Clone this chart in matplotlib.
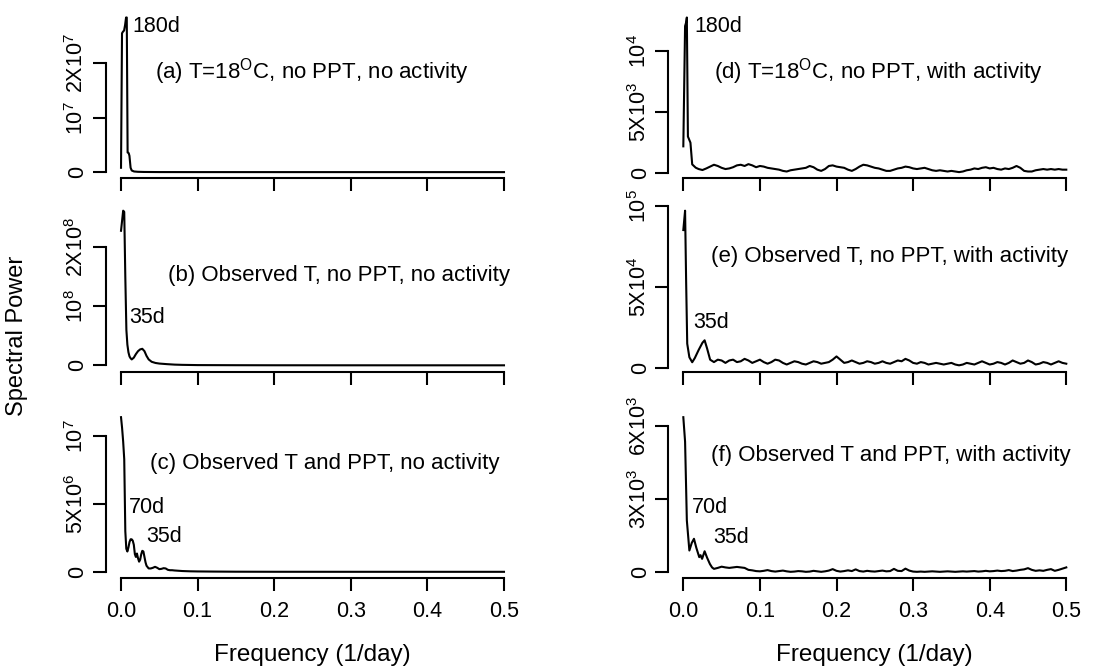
import numpy as np
import matplotlib
matplotlib.use("Agg")
import matplotlib.pyplot as plt

plt.rcParams['font.family'] = ['Liberation Sans', 'DejaVu Sans']
plt.rcParams['mathtext.fontset'] = 'custom'
plt.rcParams['mathtext.rm'] = 'Liberation Sans'
plt.rcParams['mathtext.it'] = 'Liberation Sans:italic'

# ---------------- data ----------------
x_ticks = [0.0, 0.1, 0.2, 0.3, 0.4, 0.5]
x_tick_labels = ['0.0', '0.1', '0.2', '0.3', '0.4', '0.5']

# (a) units of 1e7
freq_a = [0.0, 0.0013, 0.0026, 0.0040, 0.0053, 0.0066, 0.0075, 0.0086, 0.0100, 0.0110,
          0.0125, 0.0140, 0.0170, 0.0220, 0.030, 0.050, 0.10, 0.20, 0.30, 0.40, 0.50]
pow_a = [0.08, 2.55, 2.58, 2.60, 2.70, 2.84, 2.84, 0.36, 0.35, 0.30,
         0.08, 0.03, 0.012, 0.006, 0.003, 0.001, 0.0005, 0.0003, 0.0002, 0.0002, 0.0002]

# (b) units of 1e8
freq_b = [0.0, 0.0014, 0.0028, 0.0042, 0.0056, 0.0070, 0.0083, 0.0097, 0.0111, 0.0125,
          0.0140, 0.0167, 0.0194, 0.0222, 0.0250, 0.0278, 0.0306, 0.0333, 0.0361, 0.040,
          0.045, 0.050, 0.060, 0.070, 0.080, 0.10, 0.15, 0.20, 0.30, 0.40, 0.50]
pow_b = [2.28, 2.45, 2.62, 2.60, 1.50, 0.60, 0.35, 0.22, 0.15, 0.12,
         0.10, 0.13, 0.19, 0.24, 0.27, 0.28, 0.24, 0.16, 0.10, 0.06,
         0.04, 0.03, 0.02, 0.012, 0.008, 0.004, 0.002, 0.001, 0.0005, 0.0003, 0.0002]

# (c) units of 1e6
freq_c = [0.0, 0.0014, 0.0028, 0.0042, 0.0056, 0.0069, 0.0083, 0.0097, 0.0111, 0.0125,
          0.0139, 0.0153, 0.0167, 0.0181, 0.0194, 0.0208, 0.0222, 0.0236, 0.0250, 0.0264,
          0.0278, 0.0292, 0.0306, 0.0320, 0.0333, 0.0361, 0.0389, 0.0417, 0.0444, 0.0472,
          0.0500, 0.0528, 0.0556, 0.0583, 0.0611, 0.0639, 0.0667, 0.070, 0.075, 0.080,
          0.090, 0.10, 0.12, 0.15, 0.20, 0.30, 0.40, 0.50]
pow_c = [11.4, 10.6, 9.6, 8.3, 3.0, 1.7, 1.5, 1.8, 2.2, 2.4,
         2.4, 2.3, 2.0, 1.3, 1.1, 1.35, 1.0, 0.75, 0.9, 1.3,
         1.55, 1.5, 1.1, 0.7, 0.45, 0.25, 0.25, 0.3, 0.37, 0.3,
         0.2, 0.22, 0.27, 0.25, 0.15, 0.12, 0.12, 0.10, 0.08, 0.06,
         0.04, 0.03, 0.02, 0.01, 0.005, 0.003, 0.002, 0.002]

# shared tail frequency grid for the noisy right-hand panels
tail_freq = [0.040, 0.045, 0.050, 0.055, 0.060, 0.065, 0.070, 0.075, 0.080, 0.085,
             0.090, 0.095, 0.100, 0.105, 0.110, 0.115, 0.120, 0.125, 0.130, 0.135,
             0.140, 0.145, 0.150, 0.155, 0.160, 0.165, 0.170, 0.175, 0.180, 0.185,
             0.190, 0.195, 0.200, 0.205, 0.210, 0.215, 0.220, 0.225, 0.230, 0.235,
             0.240, 0.245, 0.250, 0.255, 0.260, 0.265, 0.270, 0.275, 0.280, 0.285,
             0.290, 0.295, 0.300, 0.305, 0.310, 0.315, 0.320, 0.325, 0.330, 0.335,
             0.340, 0.345, 0.350, 0.355, 0.360, 0.365, 0.370, 0.375, 0.380, 0.385,
             0.390, 0.395, 0.400, 0.405, 0.410, 0.415, 0.420, 0.425, 0.430, 0.435,
             0.440, 0.445, 0.450, 0.455, 0.460, 0.465, 0.470, 0.475, 0.480, 0.485,
             0.490, 0.495, 0.500]

# (d) units of 1e3
freq_d_head = [0.0, 0.0023, 0.0037, 0.0046, 0.0060, 0.0093, 0.0116, 0.0162, 0.020, 0.025, 0.030, 0.035]
pow_d_head = [2.2, 12.0, 12.3, 12.7, 3.0, 2.5, 0.73, 0.46, 0.35, 0.27, 0.40, 0.55]
pow_d_tail = [0.70, 0.60, 0.45, 0.35, 0.40, 0.50, 0.65, 0.70, 0.60, 0.75,
              0.65, 0.50, 0.60, 0.55, 0.45, 0.40, 0.35, 0.30, 0.20, 0.15,
              0.25, 0.30, 0.35, 0.40, 0.45, 0.60, 0.50, 0.30, 0.20, 0.35,
              0.60, 0.65, 0.55, 0.50, 0.45, 0.30, 0.20, 0.35, 0.55, 0.70,
              0.65, 0.55, 0.45, 0.40, 0.30, 0.20, 0.20, 0.30, 0.40, 0.45,
              0.55, 0.50, 0.40, 0.35, 0.40, 0.45, 0.35, 0.25, 0.20, 0.25,
              0.20, 0.15, 0.20, 0.15, 0.10, 0.15, 0.25, 0.30, 0.40, 0.35,
              0.45, 0.50, 0.40, 0.45, 0.35, 0.30, 0.40, 0.35, 0.45, 0.60,
              0.45, 0.20, 0.15, 0.15, 0.25, 0.30, 0.35, 0.30, 0.35, 0.30,
              0.35, 0.30, 0.30]

# (e) units of 1e4
freq_e_head = [0.0, 0.0023, 0.0037, 0.0051, 0.0079, 0.0116, 0.015, 0.020, 0.025, 0.0278, 0.031, 0.035]
pow_e_head = [8.53, 9.73, 5.27, 1.49, 0.65, 0.34, 0.60, 1.10, 1.55, 1.70, 1.20, 0.50]
pow_e_tail = [0.35, 0.50, 0.45, 0.30, 0.45, 0.50, 0.35, 0.40, 0.55, 0.45,
              0.30, 0.40, 0.50, 0.35, 0.25, 0.35, 0.50, 0.45, 0.30, 0.20,
              0.30, 0.40, 0.35, 0.25, 0.20, 0.30, 0.40, 0.35, 0.25, 0.30,
              0.35, 0.50, 0.70, 0.50, 0.30, 0.35, 0.45, 0.35, 0.25, 0.30,
              0.40, 0.35, 0.25, 0.30, 0.40, 0.30, 0.25, 0.35, 0.45, 0.40,
              0.55, 0.45, 0.30, 0.25, 0.35, 0.30, 0.20, 0.25, 0.30, 0.25,
              0.20, 0.25, 0.30, 0.20, 0.15, 0.20, 0.30, 0.25, 0.20, 0.30,
              0.40, 0.30, 0.20, 0.25, 0.35, 0.30, 0.20, 0.30, 0.45, 0.35,
              0.25, 0.30, 0.45, 0.35, 0.20, 0.25, 0.35, 0.30, 0.20, 0.30,
              0.40, 0.30, 0.25]

# (f) units of 1e3
freq_f_head = [0.0, 0.0023, 0.0046, 0.0079, 0.0110, 0.0139, 0.0170, 0.0208, 0.0225, 0.0245,
               0.0278, 0.0310, 0.0347, 0.0375]
pow_f_head = [6.34, 5.34, 2.12, 0.89, 1.20, 1.37, 1.00, 0.62, 0.70, 0.55,
              0.86, 0.60, 0.34, 0.20]
pow_f_tail = [0.14, 0.18, 0.23, 0.20, 0.18, 0.20, 0.22, 0.20, 0.18, 0.10,
              0.08, 0.05, 0.04, 0.06, 0.09, 0.05, 0.03, 0.05, 0.07, 0.04,
              0.02, 0.03, 0.05, 0.04, 0.02, 0.03, 0.06, 0.04, 0.02, 0.04,
              0.07, 0.13, 0.06, 0.03, 0.05, 0.08, 0.05, 0.12, 0.05, 0.03,
              0.06, 0.04, 0.03, 0.05, 0.07, 0.04, 0.05, 0.14, 0.06, 0.05,
              0.15, 0.07, 0.03, 0.02, 0.03, 0.02, 0.03, 0.04, 0.03, 0.02,
              0.03, 0.04, 0.03, 0.02, 0.03, 0.04, 0.03, 0.04, 0.05, 0.03,
              0.04, 0.06, 0.04, 0.05, 0.07, 0.05, 0.06, 0.09, 0.05, 0.07,
              0.10, 0.12, 0.17, 0.10, 0.06, 0.08, 0.06, 0.10, 0.13, 0.06,
              0.10, 0.15, 0.20]

panel_labels = [
    r'(a) T=18$\mathregular{^O}$C, no PPT, no activity',
    r'(b) Observed T, no PPT, no activity',
    r'(c) Observed T and PPT, no activity',
    r'(d) T=18$\mathregular{^O}$C, no PPT, with activity',
    r'(e) Observed T, no PPT, with activity',
    r'(f) Observed T and PPT, with activity',
]
y_ticks = [[0, 1e7, 2e7], [0, 1e8, 2e8], [0, 5e6, 1e7],
           [0, 5e3, 1e4], [0, 5e4, 1e5], [0, 3e3, 6e3]]
y_tick_labels = [
    ['0', r'$\mathregular{10^7}$', r'$\mathregular{2X10^7}$'],
    ['0', r'$\mathregular{10^8}$', r'$\mathregular{2X10^8}$'],
    ['0', r'$\mathregular{5X10^6}$', r'$\mathregular{10^7}$'],
    ['0', r'$\mathregular{5X10^3}$', r'$\mathregular{10^4}$'],
    ['0', r'$\mathregular{5X10^4}$', r'$\mathregular{10^5}$'],
    ['0', r'$\mathregular{3X10^3}$', r'$\mathregular{6X10^3}$'],
]
units = [1e7, 1e8, 1e6, 1e3, 1e4, 1e3]

# panel label positions (data coords) and peak annotations
label_pos = [(0.249, 1.85e7), (0.284, 1.53e8), (0.266, 7.99e6),
             (0.255, 8.3e3), (0.269, 6.91e4), (0.271, 4.79e3)]
annotations = [
    [('180d', 0.0144, 2.67e7)],
    [('35d', 0.0102, 0.81e8)],
    [('70d', 0.0102, 4.72e6), ('35d', 0.0325, 2.58e6)],
    [('180d', 0.0139, 11.95e3)],
    [('35d', 0.0125, 2.79e4)],
    [('70d', 0.0116, 2.63e3), ('35d', 0.0394, 1.44e3)],
]

series = [
    (freq_a, pow_a),
    (freq_b, pow_b),
    (freq_c, pow_c),
    (freq_d_head + tail_freq, pow_d_head + pow_d_tail),
    (freq_e_head + tail_freq, pow_e_head + pow_e_tail),
    (freq_f_head + tail_freq, pow_f_head + pow_f_tail),
]

# ---------------- layout (pixels) ----------------
W, H = 1097, 672
col_left_px = [105.7, 668.0]
plot_w_px = 413.6
plot_h_px = 167.0
row_bottom_px = [178.3, 371.5, 578.0]

fig = plt.figure(figsize=(W / 100, H / 100), dpi=100)

LW = 1.5
TICK_FS = 15.5
for i in range(6):
    col, row = divmod(i, 3)
    left = col_left_px[col] / W
    bottom = 1 - row_bottom_px[row] / H
    ax = fig.add_axes([left, bottom, plot_w_px / W, plot_h_px / H])
    fx, py = series[i]
    y = np.array(py) * units[i]
    ax.plot(fx, y, color='black', lw=LW, solid_joinstyle='round')
    lo, hi = y.min(), y.max()
    pad = 0.04 * (hi - lo)
    ax.set_ylim(lo - pad, hi + pad)
    ax.set_xlim(-0.02, 0.52)

    for s in ['top', 'right']:
        ax.spines[s].set_visible(False)
    ax.spines['left'].set_bounds(y_ticks[i][0], y_ticks[i][-1])
    ax.spines['bottom'].set_bounds(0, 0.5)
    for s in ['left', 'bottom']:
        ax.spines[s].set_linewidth(LW)

    ax.set_xticks(x_ticks)
    ax.set_xticklabels(x_tick_labels if row == 2 else [''] * len(x_ticks), fontsize=TICK_FS)
    ax.set_yticks(y_ticks[i])
    ax.set_yticklabels(y_tick_labels[i], fontsize=TICK_FS, rotation=90, va='center')
    ax.tick_params(axis='both', direction='out', length=9.5, width=LW)
    ax.tick_params(axis='x', pad=7)
    ax.tick_params(axis='y', pad=3)
    ax.patch.set_visible(False)

    lx, ly = label_pos[i]
    ax.text(lx, ly, panel_labels[i], ha='center', va='center', fontsize=16)
    for txt, tx, ty in annotations[i]:
        ax.text(tx, ty, txt, ha='left', va='center', fontsize=15.5)

fig.text(17 / W, 1 - 336 / H, 'Spectral Power', rotation=90, ha='center', va='center', fontsize=17)
for col in range(2):
    cx = (col_left_px[col] + plot_w_px / 2) / W
    fig.text(cx, 1 - 655 / H, 'Frequency (1/day)', ha='center', va='center', fontsize=17.5)

fig.savefig('out.png', dpi=100)
